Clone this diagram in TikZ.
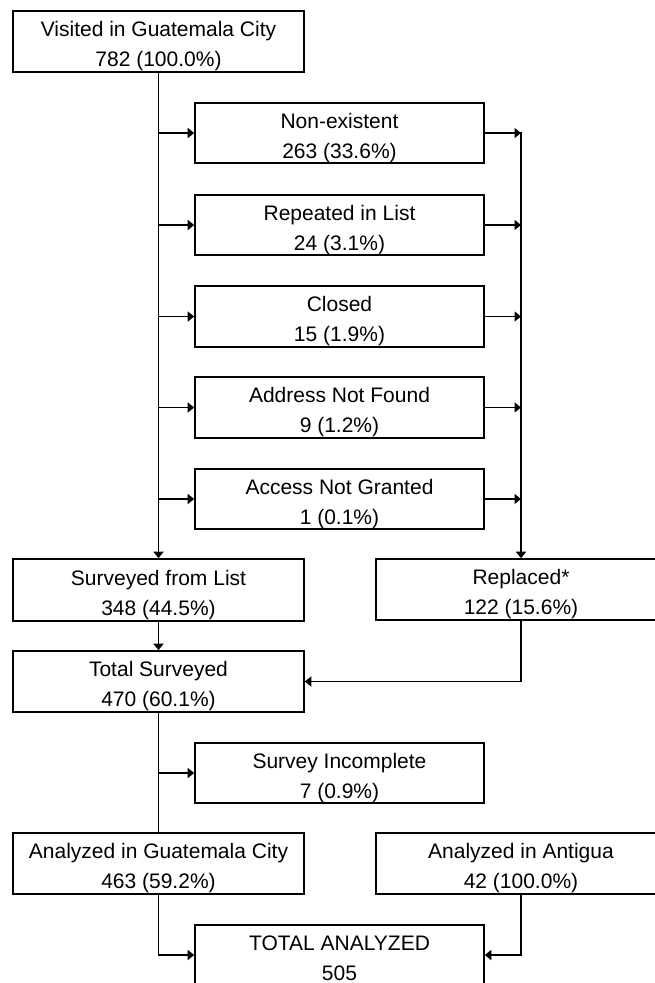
\documentclass[tikz,border=0pt]{standalone}
\usepackage{fontspec}
\setmainfont{Liberation Sans}
\usetikzlibrary{arrows.meta}
\newcommand\twol[2]{\begin{tabular}[t]{@{}c@{}}#1\\#2\end{tabular}}
\begin{document}
\begin{tikzpicture}[x=1pt,y=-1pt,
  box/.style={draw,line width=1.6pt,minimum width=290pt,minimum height=61pt,inner sep=0pt},
  txt/.style={anchor=base,inner sep=0pt,font=\fontsize{21}{30}\selectfont},
  ln/.style={line width=1.5pt},
  ar/.style={ln,-{Triangle[length=6.5pt,width=10pt]}}]
\path[use as bounding box,fill=white] (0,0) rectangle (655,983);
% boxes
\node[box,minimum width=291pt] (top) at (158.5,41.5) {};
\node[box,minimum width=289pt,minimum height=60pt] (ne) at (339.5,133) {};
\node[box,minimum width=289pt,minimum height=60pt] (rp) at (339.5,225) {};
\node[box,minimum width=289pt] (cl) at (339.5,316.5) {};
\node[box,minimum width=289pt] (ad) at (339.5,407.5) {};
\node[box,minimum width=289pt,minimum height=60pt] (ac) at (339.5,499) {};
\node[box,minimum width=291pt,minimum height=62pt] (surv) at (158.5,590) {};
\node[box,minimum height=61pt] (repl) at (521,589.5) {};
\node[box,minimum width=291pt] (tot) at (158.5,681.5) {};
\node[box,minimum width=289pt,minimum height=60pt] (sinc) at (339.5,773) {};
\node[box,minimum width=291pt] (agc) at (158.5,863.5) {};
\node[box] (ant) at (521,863.5) {};
\node[box,minimum width=289pt,minimum height=60pt] (tall) at (339.5,955) {};
% texts
\node[txt] (ttop) at ([yshift=5pt]top.center) {\twol{Visited in Guatemala City}{782 (100.0\%)}};
\node[txt] (tne) at ([yshift=5pt]ne.center) {\twol{Non-existent}{263 (33.6\%)}};
\node[txt] (trp) at ([yshift=5pt]rp.center) {\twol{Repeated in List}{24 (3.1\%)}};
\node[txt] (tcl) at ([yshift=5pt]cl.center) {\twol{Closed}{15 (1.9\%)}};
\node[txt] (tad) at ([yshift=5pt]ad.center) {\twol{Address Not Found}{9 (1.2\%)}};
\node[txt] (tac) at ([yshift=5pt]ac.center) {\twol{Access Not Granted}{1 (0.1\%)}};
\node[txt] (tsurv) at ([yshift=5pt]surv.center) {\twol{Surveyed from List}{348 (44.5\%)}};
\node[txt] (trepl) at ([yshift=5pt]repl.center) {\twol{Replaced*}{122 (15.6\%)}};
\node[txt] (ttot) at ([yshift=5pt]tot.center) {\twol{Total Surveyed}{470 (60.1\%)}};
\node[txt] (tsinc) at ([yshift=5pt]sinc.center) {\twol{Survey Incomplete}{7 (0.9\%)}};
\node[txt] (tagc) at ([yshift=5pt]agc.center) {\twol{Analyzed in Guatemala City}{463 (59.2\%)}};
\node[txt] (tant) at ([yshift=5pt]ant.center) {\twol{Analyzed in Antigua}{42 (100.0\%)}};
\node[txt] (ttall) at ([yshift=5pt]tall.center) {\twol{TOTAL ANALYZED}{505}};
% connectors
\draw[ar] (top.south) -- (surv.north);
\foreach \n in {ne,rp,cl,ad,ac}{
  \draw[ar] (top.south |- \n.west) -- (\n.west);
  \draw[ar] (\n.east) -- (\n.east -| repl.north);
}
\draw[ar] ([yshift=1pt]ne.east -| repl.north) -- (repl.north);
\draw[ar] (surv.south) -- (tot.north);
\draw[ar] (repl.south) |- (tot.east);
\draw[ln] (tot.south) -- (agc.north);
\draw[ar] (tot.south |- sinc.west) -- (sinc.west);
\draw[ar] (agc.south) |- (tall.west);
\draw[ar] (ant.south) |- (tall.east);
\end{tikzpicture}
\end{document}
